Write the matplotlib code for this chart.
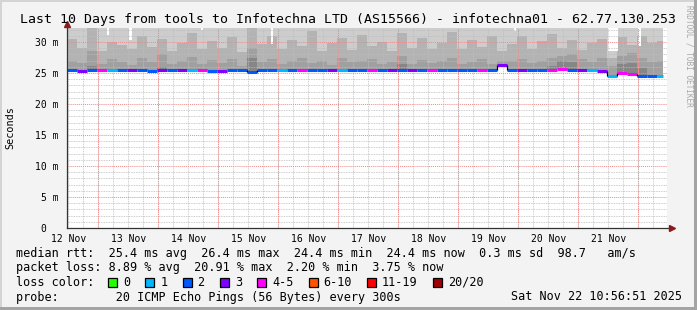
# -*- coding: utf-8 -*-
"""SmokePing style latency chart: 10 days, tools -> infotechna01."""
import matplotlib
matplotlib.use("Agg")
import matplotlib.pyplot as plt
import numpy as np
from matplotlib.patches import Rectangle

# ---- data (4 hour bins, hours from left edge of the graph) ----
median_ms = [25.45, 25.3, 25.45, 25.45, 25.45, 25.45, 25.45, 25.45, 25.3, 25.45,
             25.45, 25.45, 25.45, 25.45, 25.3, 25.3, 25.45, 25.45, 25.1, 25.45,
             25.45, 25.45, 25.45, 25.45, 25.45, 25.45, 25.45, 25.45, 25.45, 25.45,
             25.45, 25.45, 25.45, 25.45, 25.45, 25.45, 25.45, 25.45, 25.45, 25.45,
             25.45, 25.45, 25.45, 26.35, 25.45, 25.45, 25.45, 25.45, 25.45, 25.6,
             25.55, 25.45, 25.45, 25.3, 24.45, 24.95, 24.85, 24.55, 24.55, 24.5]
lost_pings = [2, 3, 2, 4, 1, 2, 3, 2, 2, 3,
              2, 3, 1, 4, 2, 3, 2, 2, 2, 2,
              2, 1, 2, 4, 2, 2, 3, 1, 2, 2,
              4, 2, 3, 2, 3, 2, 4, 2, 2, 2,
              2, 4, 2, 3, 2, 3, 2, 2, 4, 4,
              2, 3, 1, 3, 1, 4, 4, 2, 2, 1]
smoke_mid = [30.5, 29.0, 32.5, 28.5, 30.0, 29.5, 28.8, 31.0, 29.2, 30.5,
             28.6, 29.8, 31.5, 28.9, 30.2, 29.0, 30.8, 28.4, 32.5, 29.6,
             31.0, 28.8, 30.4, 29.3, 31.8, 28.6, 29.9, 30.6, 28.7, 31.2,
             29.4, 30.0, 28.5, 31.4, 29.1, 30.7, 28.9, 29.8, 31.6, 28.8,
             30.3, 29.2, 31.0, 28.6, 29.7, 30.9, 28.9, 30.1, 31.3, 29.0,
             30.4, 28.7, 29.9, 30.5, 27.5, 30.8, 29.5, 31.0, 29.8, 30.2]
smoke_low = [27.0, 26.6, 28.5, 26.4, 27.2, 26.8, 26.3, 27.4, 26.7, 28.0,
             26.5, 26.9, 27.6, 26.4, 27.1, 26.6, 27.3, 26.2, 29.0, 26.8,
             27.2, 26.5, 26.9, 27.4, 26.6, 27.0, 26.3, 27.5, 26.7, 26.9,
             27.3, 26.4, 26.8, 27.8, 26.5, 27.1, 26.6, 27.0, 27.4, 26.4,
             26.8, 27.2, 26.5, 27.0, 26.9, 27.3, 26.6, 27.0, 27.5, 27.8,
             28.0, 27.2, 26.8, 27.4, 26.2, 27.8, 28.2, 27.4, 26.8, 27.0]
smoke_dark = [25.45, 25.3, 26.2, 25.45, 25.45, 25.45, 25.45, 25.45, 25.3, 25.9,
              25.45, 25.45, 25.45, 25.45, 25.3, 25.3, 25.45, 25.45, 27.5, 25.45,
              25.45, 25.45, 25.45, 25.45, 25.45, 25.45, 25.45, 25.45, 25.45, 25.45,
              25.45, 25.45, 25.45, 26.5, 25.45, 25.45, 25.45, 25.45, 25.45, 25.45,
              25.45, 25.45, 25.45, 26.35, 25.45, 25.45, 25.45, 25.45, 26.2, 27.0,
              26.8, 25.45, 25.45, 25.3, 24.45, 26.5, 26.6, 25.8, 24.55, 24.5]
last_hour = 238.4
# white holes at the top of the smoke: start hour, end hour, lowest value
gap_start = [15.9, 24.8, 53.6, 81.6, 178.7, 216.3, 228.4]
gap_end = [16.8, 25.9, 54.4, 82.5, 179.6, 220.3, 229.6]
gap_low = [31.1, 30.3, 32.0, 29.7, 31.8, 28.6, 29.4]

day_labels = ["12 Nov", "13 Nov", "14 Nov", "15 Nov", "16 Nov",
              "17 Nov", "18 Nov", "19 Nov", "20 Nov", "21 Nov"]
loss_labels = ["0", "1", "2", "3", "4-5", "6-10", "11-19", "20/20"]
loss_colors = ["#26ff00", "#00b8ff", "#0059ff", "#7e00ff",
               "#ff00ff", "#ff5500", "#ff0000", "#a10000"]
loss_upper = [0, 1, 2, 3, 5, 10, 19, 20]

MONO = "DejaVu Sans Mono"
W, H = 697, 310
YTOP = 32.26


def loss_color(n):
    for up, c in zip(loss_upper, loss_colors):
        if n <= up:
            return c
    return loss_colors[-1]


fig = plt.figure(figsize=(W / 100, H / 100), dpi=100, facecolor="#f3f3f3")
ax = fig.add_axes([67 / W, (H - 228) / H, 600 / W, 200 / H])
ax.set_facecolor("white")
ax.set_xlim(0, 240)
ax.set_ylim(0, YTOP)
for s in ax.spines.values():
    s.set_visible(False)

# smoke
n = len(median_ms)
edges = np.append(np.arange(n) * 4.0, last_hour)
base = np.array(median_ms)
ax.stairs(np.full(n, YTOP + 1), edges, baseline=base, fill=True, color="#cdcdcd", lw=0, zorder=1)
ax.stairs(smoke_mid, edges, baseline=base, fill=True, color="#b3b3b3", lw=0, zorder=1.1)
ax.stairs(smoke_low, edges, baseline=base, fill=True, color="#a0a0a0", lw=0, zorder=1.2)
ax.stairs(smoke_dark, edges, baseline=base, fill=True, color="#868686", lw=0, zorder=1.3)
ax.bar(gap_start, np.array([YTOP + 1] * len(gap_low)) - np.array(gap_low),
       width=np.array(gap_end) - np.array(gap_start), bottom=gap_low,
       align="edge", color="white", lw=0, zorder=1.5)

# grid (drawn over the smoke like rrdtool)
dot = (0, (1, 1))
for y in range(1, 33):
    if y % 5 == 0:
        ax.axhline(y, color="#f08a8a", lw=0.7, ls=dot, zorder=3)
    else:
        ax.axhline(y, color="#bdbdbd", lw=0.6, ls=dot, zorder=2.5)
minor_x = np.arange(0.4, 240, 6)
major_x = np.arange(12.4, 240, 24)
for x in minor_x:
    ax.axvline(x, color="#bdbdbd", lw=0.6, ls=dot, zorder=2.5)
for x in major_x:
    ax.axvline(x, color="#f08a8a", lw=0.7, ls=dot, zorder=3)

# median line coloured by loss
for i in range(n):
    ax.hlines(median_ms[i], edges[i], edges[i + 1], colors=loss_color(lost_pings[i]),
              lw=2.2, zorder=5)
    if i > 0 and abs(median_ms[i] - median_ms[i - 1]) > 0.3:
        ax.vlines(edges[i], min(median_ms[i], median_ms[i - 1]),
                  max(median_ms[i], median_ms[i - 1]), colors="black", lw=0.9, zorder=5)

# axes lines with arrows
ax.plot([0, 0], [0, 1.02], transform=ax.transAxes, color="#333333", lw=0.9, clip_on=False, zorder=6)
ax.plot([0, 1.007], [0, 0], transform=ax.transAxes, color="#333333", lw=0.9, clip_on=False, zorder=6)
ax.plot([0], [1.02], marker="^", ms=4, color="#8b1a1a", transform=ax.transAxes, clip_on=False, zorder=7)
ax.plot([1.008], [0], marker=">", ms=4, color="#8b1a1a", transform=ax.transAxes, clip_on=False, zorder=7)

# ticks
ax.set_yticks(range(0, 31, 5))
ax.set_yticklabels(["0  ", "5 m", "10 m", "15 m", "20 m", "25 m", "30 m"],
                   family=MONO, fontsize=7)
ax.set_xticks(np.arange(len(day_labels)) * 24 + 0.8)
ax.set_xticklabels(day_labels, family=MONO, fontsize=7)
ax.tick_params(axis="both", length=0, pad=6)
ax.tick_params(axis="x", pad=4)

# texts
fig.text(0.5, 1 - 19 / H, "Last 10 Days from tools to Infotechna LTD (AS15566) - infotechna01 - 62.77.130.253",
         family=MONO, fontsize=9.55, ha="center", va="center")
fig.text(10 / W, 1 - 128 / H, "Seconds", family=MONO, fontsize=7.3, rotation=90,
         ha="center", va="center")
fig.text(689 / W, 1 - 5 / H, "RRDTOOL / TOBI OETIKER", family=MONO, fontsize=5.6,
         rotation=270, ha="center", va="top", color="#a8a8a8")

LEG = dict(family=MONO, fontsize=8.5, va="center", ha="left")
fig.text(16 / W, 1 - 254 / H,
         "median rtt:  25.4 ms avg  26.4 ms max  24.4 ms min  24.4 ms now  0.3 ms sd  98.7   am/s", **LEG)
fig.text(16 / W, 1 - 268 / H,
         "packet loss: 8.89 % avg  20.91 % max  2.20 % min  3.75 % now", **LEG)
fig.text(16 / W, 1 - 282 / H, "loss color:", **LEG)
fig.text(16 / W, 1 - 297 / H,
         "probe:        20 ICMP Echo Pings (56 Bytes) every 300s", **LEG)
fig.text(682 / W, 1 - 297 / H, "Sat Nov 22 10:56:51 2025",
         family=MONO, fontsize=8.5, va="center", ha="right")

cw = 7.09
bx = 108.0
for lab, col in zip(loss_labels, loss_colors):
    fig.patches.append(Rectangle((bx / W, 1 - 287 / H), 9 / W, 9 / H, transform=fig.transFigure,
                                 facecolor=col, edgecolor="black", lw=0.9))
    fig.text((bx + 15) / W, 1 - 282 / H, lab, **LEG)
    bx += 15 + (len(lab) + 2) * cw + 1

# frame around the canvas
fig.patches.append(Rectangle((0, 1 - 2 / H), 1, 2 / H, transform=fig.transFigure, color="#d4d4d4", lw=0))
fig.patches.append(Rectangle((0, 0), 2 / W, 1, transform=fig.transFigure, color="#d4d4d4", lw=0))
fig.patches.append(Rectangle((0, 0), 1, 3 / H, transform=fig.transFigure, color="#a4a4a4", lw=0))
fig.patches.append(Rectangle((1 - 3 / W, 0), 3 / W, 1, transform=fig.transFigure, color="#a4a4a4", lw=0))

fig.savefig("out.png", dpi=100, facecolor=fig.get_facecolor())
plt.close(fig)
